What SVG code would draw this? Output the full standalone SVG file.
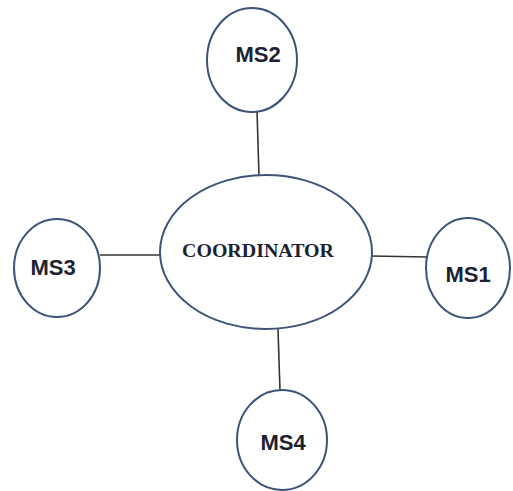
<svg xmlns="http://www.w3.org/2000/svg" width="513" height="491" viewBox="0 0 513 491">
<style>
.node ellipse{fill:#fff;stroke:#3d5478;stroke-width:2}
.lbl{font-family:"Liberation Sans",Arial,sans-serif;font-weight:bold;font-size:22px;fill:#1c2230;text-anchor:middle}
.coord{font-family:"Liberation Serif","Times New Roman",serif;font-weight:bold;font-size:19px;fill:#1c2230;text-anchor:middle}
.edges line{stroke:#333;stroke-width:1.6}
</style>
<rect width="513" height="491" fill="#fff"/>
<g class="edges">
<line x1="257" y1="111" x2="259" y2="176"/>
<line x1="100" y1="255" x2="161" y2="255"/>
<line x1="371" y1="256" x2="427" y2="257"/>
<line x1="278" y1="329" x2="280" y2="391"/>
</g>
<g id="coordinator" class="node">
<ellipse cx="266" cy="252" rx="106" ry="77"/>
<text class="coord" x="258" y="257" textLength="152" lengthAdjust="spacingAndGlyphs">COORDINATOR</text>
</g>
<g id="ms2" class="node">
<ellipse cx="252" cy="60" rx="45" ry="52"/>
<text class="lbl" x="258" y="62">MS2</text>
</g>
<g id="ms3" class="node">
<ellipse cx="57" cy="268" rx="43" ry="49"/>
<text class="lbl" x="53" y="275">MS3</text>
</g>
<g id="ms1" class="node">
<ellipse cx="468" cy="268" rx="42" ry="50"/>
<text class="lbl" x="468" y="282">MS1</text>
</g>
<g id="ms4" class="node">
<ellipse cx="282" cy="440" rx="45" ry="50"/>
<text class="lbl" x="283" y="450">MS4</text>
</g>
</svg>
